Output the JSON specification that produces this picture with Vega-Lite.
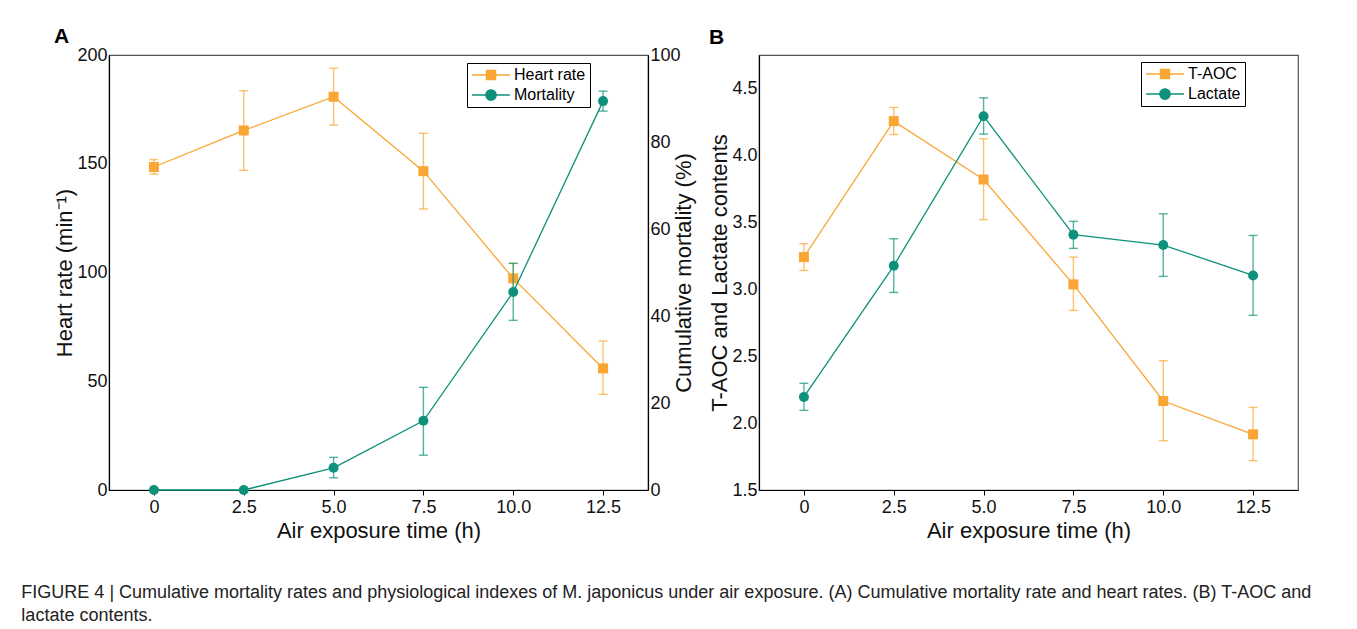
{
  "$schema": "https://vega.github.io/schema/vega-lite/v6.json",
  "autosize": {"type": "none"},
  "padding": {"left": 109, "top": 55, "right": 1248, "bottom": 574},
  "background": "white",
  "spacing": 111,
  "bounds": "flush",
  "resolve": {"scale": {"color": "independent", "shape": "independent", "x": "independent", "y": "independent"}, "legend": {"color": "independent"}},
  "datasets": {
    "a_hr": [
      {"series": "Heart rate", "time": 0, "value": 148.5, "lo": 145.2, "hi": 151.9},
      {"series": "Heart rate", "time": 2.5, "value": 165.3, "lo": 147.0, "hi": 183.6},
      {"series": "Heart rate", "time": 5, "value": 180.8, "lo": 167.8, "hi": 193.9},
      {"series": "Heart rate", "time": 7.5, "value": 146.6, "lo": 129.2, "hi": 164.0},
      {"series": "Heart rate", "time": 10, "value": 97.3, "lo": 90.4, "hi": 104.2},
      {"series": "Heart rate", "time": 12.5, "value": 55.9, "lo": 44.0, "hi": 68.5}
    ],
    "a_mort": [
      {"series": "Mortality", "time": 0, "value": 0, "lo": 0, "hi": 0},
      {"series": "Mortality", "time": 2.5, "value": 0, "lo": 0, "hi": 0},
      {"series": "Mortality", "time": 5, "value": 5.1, "lo": 2.8, "hi": 7.5},
      {"series": "Mortality", "time": 7.5, "value": 15.9, "lo": 8.0, "hi": 23.6},
      {"series": "Mortality", "time": 10, "value": 45.5, "lo": 39.0, "hi": 52.1},
      {"series": "Mortality", "time": 12.5, "value": 89.4, "lo": 87.1, "hi": 91.7}
    ],
    "b": [
      {"series": "T-AOC", "time": 0, "value": 3.24, "lo": 3.14, "hi": 3.34},
      {"series": "T-AOC", "time": 2.5, "value": 4.256, "lo": 4.156, "hi": 4.358},
      {"series": "T-AOC", "time": 5, "value": 3.82, "lo": 3.52, "hi": 4.124},
      {"series": "T-AOC", "time": 7.5, "value": 3.036, "lo": 2.842, "hi": 3.24},
      {"series": "T-AOC", "time": 10, "value": 2.165, "lo": 1.868, "hi": 2.466},
      {"series": "T-AOC", "time": 12.5, "value": 1.916, "lo": 1.719, "hi": 2.117},
      {"series": "Lactate", "time": 0, "value": 2.195, "lo": 2.095, "hi": 2.297},
      {"series": "Lactate", "time": 2.5, "value": 3.175, "lo": 2.976, "hi": 3.377},
      {"series": "Lactate", "time": 5, "value": 4.293, "lo": 4.159, "hi": 4.43},
      {"series": "Lactate", "time": 7.5, "value": 3.407, "lo": 3.305, "hi": 3.507},
      {"series": "Lactate", "time": 10, "value": 3.33, "lo": 3.096, "hi": 3.563},
      {"series": "Lactate", "time": 12.5, "value": 3.103, "lo": 2.805, "hi": 3.402}
    ]
  },
  "config": {
    "font": "Liberation Sans",
    "view": {"stroke": "#555", "strokeWidth": 1.2},
    "axis": {
      "grid": false,
      "domainColor": "#000",
      "domainWidth": 1.2,
      "tickColor": "#000",
      "labelColor": "#111",
      "titleColor": "#111",
      "labelFont": "Liberation Sans",
      "titleFont": "Liberation Sans",
      "labelFontSize": 18,
      "titleFontSize": 22,
      "titleFontWeight": "normal"
    },
    "legend": {
      "orient": "none",
      "strokeColor": "#000",
      "fillColor": "white",
      "padding": 4,
      "rowPadding": 4,
      "labelFont": "Liberation Sans",
      "labelFontSize": 16,
      "labelColor": "#000",
      "symbolSize": 81,
      "symbolStrokeWidth": 1.4,
      "symbolOffset": 12,
      "labelOffset": 15
    }
  },
  "title": {
    "text": ["FIGURE 4 | Cumulative mortality rates and physiological indexes of M. japonicus under air exposure. (A) Cumulative mortality rate and heart rates. (B) T-AOC and", "lactate contents."],
    "orient": "bottom",
    "anchor": "start",
    "frame": "bounds",
    "baseline": "top",
    "offset": 42,
    "dx": -32,
    "font": "Liberation Sans",
    "fontSize": 18,
    "fontWeight": "normal",
    "lineHeight": 23,
    "color": "#222"
  },
  "hconcat": [
    {
      "width": 539,
      "height": 435,
      "title": {"text": "A", "anchor": "start", "frame": "group", "dx": -55, "dy": 21, "offset": 3, "baseline": "alphabetic", "fontSize": 21, "fontWeight": "bold", "font": "Liberation Sans", "color": "#000"},
      "layer": [
        {
          "data": {"name": "a_hr"},
          "encoding": {
            "x": {"field": "time", "type": "quantitative", "scale": {"domain": [-1.25, 13.75], "nice": false, "zero": false},
              "axis": {"title": "Air exposure time (h)", "values": [0, 2.5, 5, 7.5, 10, 12.5], "labelExpr": "datum.value == 0 ? '0' : format(datum.value, '.1f')", "tickSize": 5, "labelPadding": 3, "titlePadding": 4}},
            "color": {"field": "series", "type": "nominal", "scale": {"domain": ["Heart rate", "Mortality"], "range": ["#F9A634", "#0E917A"]},
              "legend": {"title": null, "legendX": 358, "legendY": 8,
                "encode": {"symbols": {"update": {
                  "shape": {"signal": "datum.value == 'Heart rate' ? 'M-4.2,0H4.2M-1,-1H1V1H-1Z' : 'M-4.2,0H4.2M-1.15,0A1.15,1.15,0,1,1,1.15,0A1.15,1.15,0,1,1,-1.15,0Z'"},
                  "stroke": {"signal": "datum.value == 'Heart rate' ? '#FBC06E' : '#6CC0AF'"},
                  "fill": {"signal": "datum.value == 'Heart rate' ? '#F9A634' : '#0E917A'"},
                  "strokeWidth": {"value": 1.4},
                  "opacity": {"value": 1}
                }}}}}
          },
          "layer": [
            {
              "mark": {"type": "errorbar", "opacity": 0.7, "thickness": 1.4, "ticks": {"size": 9}},
              "encoding": {
                "y": {"field": "lo", "type": "quantitative", "scale": {"domain": [0, 200], "nice": false},
                  "axis": {"title": "Heart rate (min⁻¹)", "orient": "left", "values": [0, 50, 100, 150, 200], "tickSize": 0, "labelPadding": 2, "titlePadding": 0}},
                "y2": {"field": "hi"}
              }
            },
            {
              "mark": {"type": "line", "strokeWidth": 1.3},
              "encoding": {
                "y": {"field": "value", "type": "quantitative", "scale": {"domain": [0, 200], "nice": false},
                  "axis": {"title": "Heart rate (min⁻¹)", "orient": "left", "values": [0, 50, 100, 150, 200], "tickSize": 0, "labelPadding": 2, "titlePadding": 0}}
              }
            },
            {
              "mark": {"type": "point", "shape": "square", "filled": true, "size": 100, "opacity": 1},
              "encoding": {
                "y": {"field": "value", "type": "quantitative", "scale": {"domain": [0, 200], "nice": false},
                  "axis": {"title": "Heart rate (min⁻¹)", "orient": "left", "values": [0, 50, 100, 150, 200], "tickSize": 0, "labelPadding": 2, "titlePadding": 0}}
              }
            }
          ]
        },
        {
          "data": {"name": "a_mort"},
          "encoding": {
            "x": {"field": "time", "type": "quantitative", "scale": {"domain": [-1.25, 13.75], "nice": false, "zero": false},
              "axis": {"title": "Air exposure time (h)", "values": [0, 2.5, 5, 7.5, 10, 12.5], "labelExpr": "datum.value == 0 ? '0' : format(datum.value, '.1f')", "tickSize": 5, "labelPadding": 3, "titlePadding": 4}},
            "color": {"field": "series", "type": "nominal", "scale": {"domain": ["Heart rate", "Mortality"], "range": ["#F9A634", "#0E917A"]},
              "legend": {"title": null, "legendX": 358, "legendY": 8,
                "encode": {"symbols": {"update": {
                  "shape": {"signal": "datum.value == 'Heart rate' ? 'M-4.2,0H4.2M-1,-1H1V1H-1Z' : 'M-4.2,0H4.2M-1.15,0A1.15,1.15,0,1,1,1.15,0A1.15,1.15,0,1,1,-1.15,0Z'"},
                  "stroke": {"signal": "datum.value == 'Heart rate' ? '#FBC06E' : '#6CC0AF'"},
                  "fill": {"signal": "datum.value == 'Heart rate' ? '#F9A634' : '#0E917A'"},
                  "strokeWidth": {"value": 1.4},
                  "opacity": {"value": 1}
                }}}}}
          },
          "layer": [
            {
              "mark": {"type": "errorbar", "opacity": 0.7, "thickness": 1.4, "ticks": {"size": 9}},
              "encoding": {
                "y": {"field": "lo", "type": "quantitative", "scale": {"domain": [0, 100], "nice": false},
                  "axis": {"title": "Cumulative mortality (%)", "orient": "right", "values": [0, 20, 40, 60, 80, 100], "tickSize": 0, "labelPadding": 2, "titlePadding": -7, "titleAngle": 270, "titleBaseline": "top"}},
                "y2": {"field": "hi"}
              }
            },
            {
              "mark": {"type": "line", "strokeWidth": 1.3},
              "encoding": {
                "y": {"field": "value", "type": "quantitative", "scale": {"domain": [0, 100], "nice": false},
                  "axis": {"title": "Cumulative mortality (%)", "orient": "right", "values": [0, 20, 40, 60, 80, 100], "tickSize": 0, "labelPadding": 2, "titlePadding": -7, "titleAngle": 270, "titleBaseline": "top"}}
              }
            },
            {
              "mark": {"type": "point", "shape": "circle", "filled": true, "size": 100, "opacity": 1},
              "encoding": {
                "y": {"field": "value", "type": "quantitative", "scale": {"domain": [0, 100], "nice": false},
                  "axis": {"title": "Cumulative mortality (%)", "orient": "right", "values": [0, 20, 40, 60, 80, 100], "tickSize": 0, "labelPadding": 2, "titlePadding": -7, "titleAngle": 270, "titleBaseline": "top"}}
              }
            }
          ]
        }
      ],
      "resolve": {"scale": {"y": "independent"}}
    },
    {
      "width": 539,
      "height": 435,
      "title": {"text": "B", "anchor": "start", "frame": "group", "dx": -50, "dy": 13, "offset": 3, "baseline": "alphabetic", "fontSize": 21, "fontWeight": "bold", "font": "Liberation Sans", "color": "#000"},
      "data": {"name": "b"},
      "encoding": {
        "x": {"field": "time", "type": "quantitative", "scale": {"domain": [-1.25, 13.75], "nice": false, "zero": false},
          "axis": {"title": "Air exposure time (h)", "values": [0, 2.5, 5, 7.5, 10, 12.5], "labelExpr": "datum.value == 0 ? '0' : format(datum.value, '.1f')", "tickSize": 5, "labelPadding": 3, "titlePadding": 4}},
        "color": {"field": "series", "type": "nominal", "scale": {"domain": ["T-AOC", "Lactate"], "range": ["#F9A634", "#0E917A"]},
          "legend": {"title": null, "legendX": 382, "legendY": 7,
            "encode": {"symbols": {"update": {
              "shape": {"signal": "datum.value == 'T-AOC' ? 'M-4.2,0H4.2M-1,-1H1V1H-1Z' : 'M-4.2,0H4.2M-1.15,0A1.15,1.15,0,1,1,1.15,0A1.15,1.15,0,1,1,-1.15,0Z'"},
              "stroke": {"signal": "datum.value == 'T-AOC' ? '#FBC06E' : '#6CC0AF'"},
              "fill": {"signal": "datum.value == 'T-AOC' ? '#F9A634' : '#0E917A'"},
              "strokeWidth": {"value": 1.4},
              "opacity": {"value": 1}
            }}}}},
        "y": {"field": "value", "type": "quantitative", "scale": {"domain": [1.5, 4.75], "nice": false, "zero": false},
          "axis": {"title": "T-AOC and Lactate contents", "values": [1.5, 2, 2.5, 3, 3.5, 4, 4.5], "format": ".1f", "tickSize": 0, "labelPadding": 2, "titlePadding": 0}}
      },
      "layer": [
        {
          "mark": {"type": "errorbar", "opacity": 0.7, "thickness": 1.4, "ticks": {"size": 9}},
          "encoding": {
            "y": {"field": "lo", "type": "quantitative", "scale": {"domain": [1.5, 4.75], "nice": false, "zero": false},
              "axis": {"title": "T-AOC and Lactate contents", "values": [1.5, 2, 2.5, 3, 3.5, 4, 4.5], "format": ".1f", "tickSize": 0, "labelPadding": 2, "titlePadding": 0}},
            "y2": {"field": "hi"}
          }
        },
        {
          "mark": {"type": "line", "strokeWidth": 1.3}
        },
        {
          "transform": [{"filter": "datum.series == 'T-AOC'"}],
          "mark": {"type": "point", "shape": "square", "filled": true, "size": 100, "opacity": 1}
        },
        {
          "transform": [{"filter": "datum.series == 'Lactate'"}],
          "mark": {"type": "point", "shape": "circle", "filled": true, "size": 100, "opacity": 1}
        }
      ]
    }
  ]
}
